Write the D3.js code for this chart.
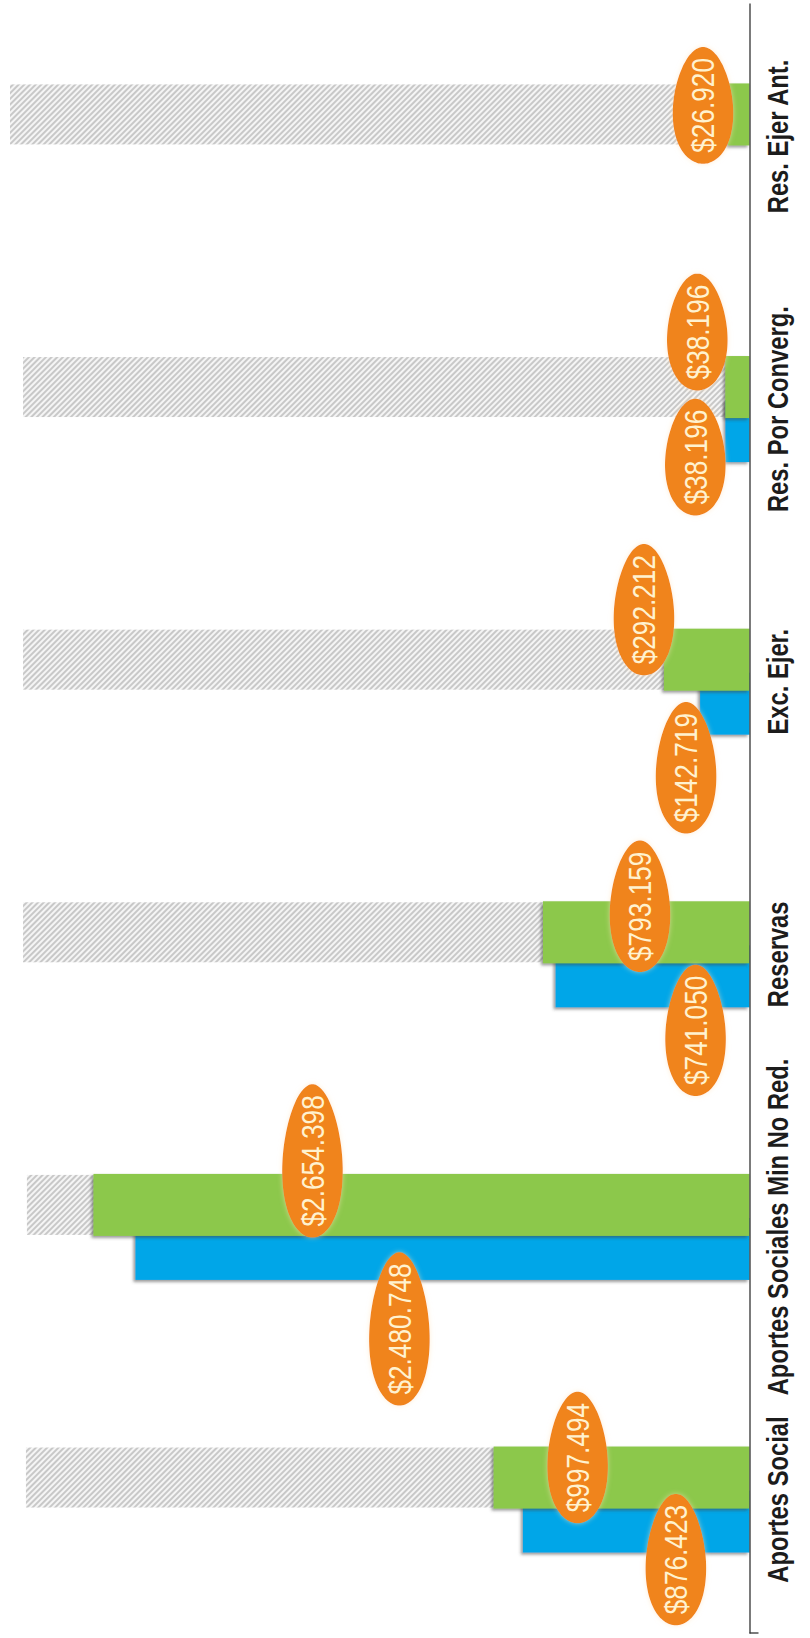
<!DOCTYPE html>
<html>
<head>
<meta charset="utf-8">
<script src="https://cdn.jsdelivr.net/npm/d3@7"></script>
<style>
  html, body { margin: 0; padding: 0; background: #ffffff; }
  svg { display: block; }
</style>
</head>
<body>
<svg id="chart" width="810" height="1638"></svg>
<script>
// Categories in chart order (first one sits at the bottom of the rotated chart)
const categories = [
  "Aportes Social",
  "Aportes Sociales Min No Red.",
  "Reservas",
  "Exc. Ejer.",
  "Res. Por Converg.",
  "Res. Ejer Ant."
];
// Previous period (blue) and current period (green)
const seriesBlue  = [876423, 2480748, 741050, 142719, 38196, null];
const seriesGreen = [997494, 2654398, 793159, 292212, 38196, 26920];
// Hatched reference bars drawn behind the green series
const referenceTotals = [2934000, 2930000, 2946000, 2946000, 2946000, 3000000];
// Value axis extent
const valueDomain = [-62000, 3000000];

// Placement of the oval value labels: [dx from bar end, dy from bar centre] in px
const greenLabelShift = [[84, -20], [219, -44], [97, -26], [-20, -50], [-28, -55], [-25, -9]];
const blueLabelShift  = [[153, 38], [264, 80], [140, 54], [-14, 64], [-30, 26], null];

const COLORS = { blue: "#06a6e8", green: "#8cc84b", oval: "#f0841c", ovalText: "#fff2cf", axis: "#333333", label: "#1c1c1c" };

const svg = d3.select("#chart");
const defs = svg.append("defs");

// Diagonal hatch for the reference bars
const pat = defs.append("pattern")
  .attr("id", "hatch").attr("patternUnits", "userSpaceOnUse")
  .attr("width", 4).attr("height", 4).attr("patternTransform", "rotate(45)");
pat.append("rect").attr("width", 4).attr("height", 4).attr("fill", "#f5f5f5");
pat.append("line").attr("x1", 1).attr("y1", 0).attr("x2", 1).attr("y2", 4)
  .attr("stroke", "#b9b9b9").attr("stroke-width", 1.5);

const soft = defs.append("filter").attr("id", "soft")
  .attr("x", "-5%").attr("y", "-30%").attr("width", "110%").attr("height", "160%");
soft.append("feGaussianBlur").attr("stdDeviation", 0.7);

// Soft drop shadow under the bars
const shadow = defs.append("filter").attr("id", "shadow")
  .attr("filterUnits", "userSpaceOnUse").attr("x", 0).attr("y", 0).attr("width", 810).attr("height", 1638);
shadow.append("feDropShadow").attr("dx", -2).attr("dy", 2).attr("stdDeviation", 1.6)
  .attr("flood-color", "#4a4a4a").attr("flood-opacity", 0.55);

// Light halo round the oval labels
const halo = defs.append("filter").attr("id", "halo")
  .attr("x", "-40%").attr("y", "-20%").attr("width", "180%").attr("height", "140%");
halo.append("feDropShadow").attr("dx", 0).attr("dy", 0).attr("stdDeviation", 2.5)
  .attr("flood-color", "#ffe2b8").attr("flood-opacity", 0.6);

// Scales: values run right-to-left, categories bottom-to-top
const axisX = 749.5;
const x = d3.scaleLinear().domain(valueDomain).range([axisX, 10]);
const y = d3.scaleBand()
  .domain(categories.slice().reverse())
  .range([3, 1633])
  .paddingInner(0.611)
  .paddingOuter(0.295);

const bw = y.bandwidth();
const barH = 62;
const greenY = c => y(c);
const blueY = c => y(c) + bw - barH;

const rows = categories.map((c, i) => ({
  c, i, blue: seriesBlue[i], green: seriesGreen[i], ref: referenceTotals[i]
}));

// Hatched reference bars
svg.append("g").attr("filter", "url(#soft)")
  .selectAll("rect").data(rows).join("rect")
  .attr("x", d => x(d.ref))
  .attr("y", d => greenY(d.c) + 1)
  .attr("width", d => x(d.green) - x(d.ref) + 4)
  .attr("height", barH - 2)
  .attr("fill", "url(#hatch)");

// Blue bars (drawn first, partly covered by green)
svg.append("g").attr("filter", "url(#shadow)")
  .selectAll("rect").data(rows.filter(d => d.blue != null)).join("rect")
  .attr("x", d => x(d.blue))
  .attr("y", d => blueY(d.c))
  .attr("width", d => x(valueDomain[0]) - x(d.blue))
  .attr("height", barH)
  .attr("fill", COLORS.blue);

// Green bars
svg.append("g").attr("filter", "url(#shadow)")
  .selectAll("rect").data(rows.filter(d => d.green != null)).join("rect")
  .attr("x", d => x(d.green))
  .attr("y", d => greenY(d.c))
  .attr("width", d => x(valueDomain[0]) - x(d.green))
  .attr("height", barH)
  .attr("fill", COLORS.green);

// Category axis along the right edge
const axisG = svg.append("g")
  .attr("transform", `translate(${axisX},0)`)
  .call(d3.axisRight(y).tickSize(0).tickSizeOuter(0).tickPadding(0));
axisG.attr("font-family", "'Liberation Sans', Arial, sans-serif")
  .attr("font-size", 29).attr("font-weight", "bold").attr("color", COLORS.axis);
axisG.select(".domain").attr("stroke", COLORS.axis).attr("stroke-width", 1.3);
axisG.selectAll(".tick text")
  .attr("x", 0).attr("dy", 0)
  .attr("text-anchor", "middle")
  .attr("fill", COLORS.label)
  .attr("transform", "translate(38.5,0) rotate(-90) scale(0.82,1)");
axisG.append("line")
  .attr("x1", 0).attr("x2", 9)
  .attr("y1", y.range()[1]).attr("y2", y.range()[1])
  .attr("stroke", COLORS.axis).attr("stroke-width", 1.3);

// Egg-shaped label background, narrower at the top
function eggPath(a, b, k = 0.14) {
  const pts = d3.range(72).map(j => {
    const t = j / 72 * 2 * Math.PI;
    const py = -b * Math.cos(t);
    const px = a * Math.sin(t) * (1 + k * py / b);
    return [px, py];
  });
  return d3.line().curve(d3.curveCardinalClosed)(pts);
}

const money = d3.formatLocale({ decimal: ",", thousands: ".", grouping: [3], currency: ["$", ""] }).format("$,.0f");

function drawLabels(key, shifts, rowY) {
  const data = rows.filter(d => d[key] != null && shifts[d.i]);
  const g = svg.append("g").selectAll("g").data(data).join("g")
    .attr("transform", d => {
      const cx = x(d[key]) + shifts[d.i][0];
      const cy = rowY(d.c) + barH / 2 + shifts[d.i][1];
      return `translate(${cx},${cy})`;
    });
  const shape = g.append("path").attr("fill", COLORS.oval).attr("filter", "url(#halo)");
  const txt = g.append("text")
    .attr("text-anchor", "middle")
    .attr("dy", "0.35em")
    .attr("transform", "rotate(-90) scale(0.82,1)")
    .attr("font-family", "'Liberation Sans', Arial, sans-serif")
    .attr("font-size", 32)
    .attr("fill", COLORS.ovalText)
    .text(d => money(d[key]));
  txt.each(function () {
    const len = this.getComputedTextLength() * 0.82;
    d3.select(this.parentNode).select("path").attr("d", eggPath(30, len / 2 + 11));
  });
}

drawLabels("blue", blueLabelShift, blueY);
drawLabels("green", greenLabelShift, greenY);
</script>
</body>
</html>
